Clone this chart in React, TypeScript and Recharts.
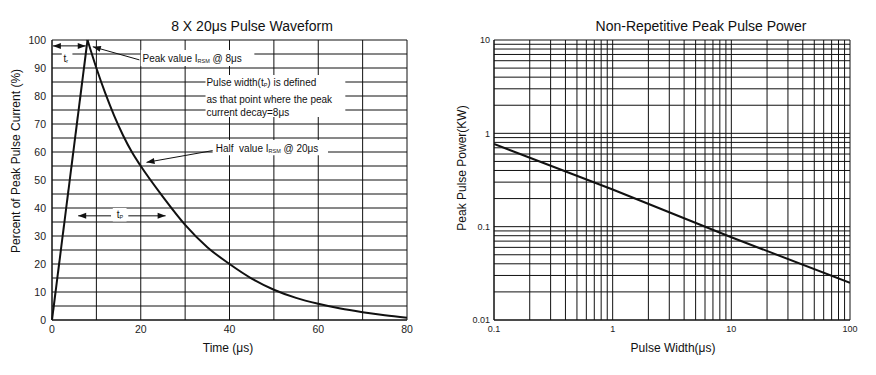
import React from "react";
import {
  LineChart,
  Line,
  XAxis,
  YAxis,
  CartesianGrid,
  ReferenceArea,
  ReferenceLine,
  ReferenceDot,
} from "recharts";

const FONT = "'Liberation Sans', Arial, Helvetica, sans-serif";
const INK = "#111";

// ---- 8 x 20us waveform ----
const riseTime = [0, 8];
const riseValue = [0, 100];
const decayTime = [8, 10, 12, 14, 16, 18, 20, 25, 30, 35, 40, 45, 50, 55, 60, 65, 70, 75, 80];
const decayValue = [100, 90, 81, 73, 66, 60, 55, 44, 34, 26, 20, 14.8, 10.8, 7.9, 5.8, 4.1, 2.8, 1.7, 0.8];
const waveXTicks = [0, 10, 20, 30, 40, 50, 60, 70, 80];
const waveYTicks = [0, 5, 10, 15, 20, 25, 30, 35, 40, 45, 50, 55, 60, 65, 70, 75, 80, 85, 90, 95, 100];

// ---- peak pulse power ----
const pulseWidth = [0.1, 1, 10, 100];
const pulsePower = [0.77, 0.25, 0.077, 0.025];
const powerXTicks = [
  0.1, 0.2, 0.3, 0.4, 0.5, 0.6, 0.7, 0.8, 0.9,
  1, 2, 3, 4, 5, 6, 7, 8, 9,
  10, 20, 30, 40, 50, 60, 70, 80, 90, 100,
];
const powerYTicks = [
  0.01, 0.02, 0.03, 0.04, 0.05, 0.06, 0.07, 0.08, 0.09,
  0.1, 0.2, 0.3, 0.4, 0.5, 0.6, 0.7, 0.8, 0.9,
  1, 2, 3, 4, 5, 6, 7, 8, 9, 10,
];
const powerDecades = [0.01, 0.1, 1, 10, 100];

const riseData = riseTime.map((t, i) => ({ t, v: riseValue[i] }));
const decayData = decayTime.map((t, i) => ({ t, v: decayValue[i] }));
const powerData = pulseWidth.map((w, i) => ({ w, p: pulsePower[i] }));

// annotation helpers (data coordinates)
type Seg = { t: string; sub?: boolean };
const NOTES: { x: number; y: number; segs: Seg[] }[] = [
  { x: 20.4, y: 93.6, segs: [{ t: "Peak value I" }, { t: "RSM", sub: true }, { t: " @ 8μs" }] },
  { x: 34.8, y: 84.9, segs: [{ t: "Pulse width(t" }, { t: "P", sub: true }, { t: ") is defined" }] },
  { x: 34.8, y: 78.9, segs: [{ t: "as that point where the peak" }] },
  { x: 34.8, y: 74.4, segs: [{ t: "current decay=8μs" }] },
  { x: 36.9, y: 61.3, segs: [{ t: "Half  value I" }, { t: "RSM", sub: true }, { t: " @ 20μs" }] },
  { x: 2.6, y: 93.6, segs: [{ t: "t" }, { t: "r", sub: true }] },
  { x: 14.6, y: 37.9, segs: [{ t: "t" }, { t: "P", sub: true }] },
];
const BOXES = [
  { x1: 20, x2: 45.6, y1: 90.7, y2: 96.4 },
  { x1: 34.6, x2: 66.1, y1: 72.5, y2: 87.5 },
  { x1: 36.2, x2: 62.2, y1: 58.8, y2: 64.3 },
  { x1: 2.2, x2: 4.6, y1: 91.2, y2: 95.6 },
  { x1: 13.7, x2: 16.8, y1: 35.2, y2: 40 },
];
const ARROWS: { from: [number, number]; to: [number, number]; both?: boolean }[] = [
  { from: [0.2, 97.9], to: [7.6, 97.9], both: true },
  { from: [19.7, 92.9], to: [9.2, 97.6] },
  { from: [36.2, 60.5], to: [21.3, 56.3] },
  { from: [13.3, 37.2], to: [5.9, 37.2] },
  { from: [17.2, 37.2], to: [25.6, 37.2] },
];

function head(x: number, y: number, fx: number, fy: number) {
  const a = Math.atan2(y - fy, x - fx);
  const L = 8;
  const W = 3;
  const bx = x - L * Math.cos(a);
  const by = y - L * Math.sin(a);
  const px = -Math.sin(a) * W;
  const py = Math.cos(a) * W;
  return `M${x},${y}L${bx + px},${by + py}L${bx - px},${by - py}Z`;
}

const arrowShape = (both?: boolean) => (p: any) => {
  const { x1, y1, x2, y2 } = p;
  return (
    <g>
      <line x1={x1} y1={y1} x2={x2} y2={y2} stroke={INK} strokeWidth={1} />
      <path d={head(x2, y2, x1, y1)} fill={INK} />
      {both && <path d={head(x1, y1, x2, y2)} fill={INK} />}
    </g>
  );
};

const noteShape = (segs: Seg[]) => (p: any) => (
  <text x={p.cx} y={p.cy} fontSize={10} fill={INK} fontFamily={FONT} dominantBaseline="central">
    {segs.map((s, i) => {
      const prevSub = i > 0 && segs[i - 1].sub;
      const dy = s.sub ? 3 : prevSub ? -3 : 0;
      return (
        <tspan key={i} dy={dy} fontSize={s.sub ? 5.5 : 10} style={{ whiteSpace: "pre" }}>
          {s.t}
        </tspan>
      );
    })}
  </text>
);

const axisTitle = (value: string, x: number, y: number, vertical?: boolean) => () => (
  <text
    x={x}
    y={y}
    transform={vertical ? `rotate(-90 ${x} ${y})` : undefined}
    textAnchor="middle"
    dominantBaseline="central"
    fontSize={12}
    fill={INK}
    fontFamily={FONT}
  >
    {value}
  </text>
);

const isDecade = (v: number) => powerDecades.some((d) => Math.abs(d - v) < 1e-9);

function Title({ text, center }: { text: string; center: number }) {
  return (
    <div
      style={{
        position: "absolute",
        left: center - 200,
        width: 400,
        top: 19,
        textAlign: "center",
        fontSize: 14,
        lineHeight: "14px",
        color: INK,
      }}
    >
      {text}
    </div>
  );
}

function WaveformChart() {
  return (
    <LineChart width={430} height={375} margin={{ top: 40, right: 23, bottom: 0, left: 0 }}>
      <CartesianGrid stroke={INK} strokeWidth={1} />
      <XAxis
        type="number"
        dataKey="t"
        domain={[0, 80]}
        ticks={waveXTicks}
        interval={0}
        tickFormatter={(v) => (v % 20 === 0 ? String(v) : "")}
        tick={{ fontSize: 10.5, fill: "#222", fontFamily: FONT }}
        tickLine={false}
        tickSize={4}
        axisLine={{ stroke: INK }}
        height={55}
        label={{ content: axisTitle("Time (μs)", 228, 348) }}
      />
      <YAxis
        type="number"
        domain={[0, 100]}
        ticks={waveYTicks}
        interval={0}
        tickFormatter={(v) => (v % 10 === 0 ? String(v) : "")}
        tick={{ fontSize: 10.5, fill: "#222", fontFamily: FONT }}
        tickLine={false}
        tickSize={4}
        axisLine={{ stroke: INK }}
        width={52}
        label={{ content: axisTitle("Percent of Peak Pulse Current (%)", 16, 161, true) }}
      />
      {BOXES.map((b, i) => (
        <ReferenceArea key={"b" + i} x1={b.x1} x2={b.x2} y1={b.y1} y2={b.y2} fill="#fff" fillOpacity={1} stroke="none" />
      ))}
      {ARROWS.map((a, i) => (
        <ReferenceLine
          key={"a" + i}
          segment={[
            { x: a.from[0], y: a.from[1] },
            { x: a.to[0], y: a.to[1] },
          ]}
          shape={arrowShape(a.both)}
        />
      ))}
      {NOTES.map((n, i) => (
        <ReferenceDot key={"n" + i} x={n.x} y={n.y} r={0} shape={noteShape(n.segs)} />
      ))}
      <Line
        data={riseData}
        dataKey="v"
        type="linear"
        stroke={INK}
        strokeWidth={2}
        dot={false}
        activeDot={false}
        isAnimationActive={false}
      />
      <Line
        data={decayData}
        dataKey="v"
        type="monotone"
        stroke={INK}
        strokeWidth={2}
        dot={false}
        activeDot={false}
        isAnimationActive={false}
      />
    </LineChart>
  );
}

function PowerChart() {
  return (
    <LineChart width={436} height={375} margin={{ top: 40, right: 26, bottom: 0, left: 0 }}>
      <CartesianGrid stroke={INK} strokeWidth={1} />
      <XAxis
        type="number"
        dataKey="w"
        scale="log"
        domain={[0.1, 100]}
        allowDataOverflow
        ticks={powerXTicks}
        interval={0}
        tickFormatter={(v) => (isDecade(v) ? String(v) : "")}
        tick={{ fontSize: 9, fill: "#222", fontFamily: FONT }}
        tickLine={false}
        tickSize={4}
        axisLine={{ stroke: INK }}
        height={55}
        label={{ content: axisTitle("Pulse Width(μs)", 233, 348) }}
      />
      <YAxis
        type="number"
        scale="log"
        domain={[0.01, 10]}
        allowDataOverflow
        ticks={powerYTicks}
        interval={0}
        tickFormatter={(v) => (isDecade(v) ? String(v) : "")}
        tick={{ fontSize: 9, fill: "#222", fontFamily: FONT }}
        tickLine={false}
        tickSize={2}
        axisLine={{ stroke: INK }}
        width={54}
        label={{ content: axisTitle("Peak Pulse Power(KW)", 22, 168, true) }}
      />
      <Line
        data={powerData}
        dataKey="p"
        type="linear"
        stroke={INK}
        strokeWidth={2}
        dot={false}
        activeDot={false}
        isAnimationActive={false}
      />
    </LineChart>
  );
}

export default function App() {
  return (
    <div
      style={{
        position: "absolute",
        left: 0,
        top: 0,
        width: 876,
        height: 375,
        background: "#fff",
        fontFamily: FONT,
      }}
    >
      <Title text="8 X 20μs Pulse Waveform" center={252} />
      <Title text="Non-Repetitive Peak Pulse Power" center={701} />
      <div style={{ position: "absolute", left: 0, top: 0 }}>
        <WaveformChart />
      </div>
      <div style={{ position: "absolute", left: 440, top: 0 }}>
        <PowerChart />
      </div>
    </div>
  );
}
